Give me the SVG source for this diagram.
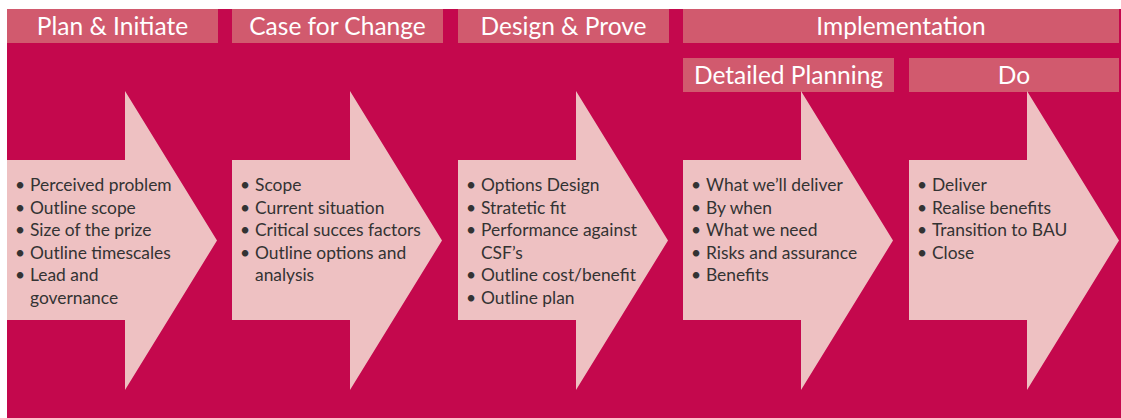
<svg xmlns="http://www.w3.org/2000/svg" width="1121" height="418" viewBox="0 0 1121 418">
<style>
.bg{fill:#C4084D}
.hdr{fill:#D15A6E}
.arr{fill:#EEC1C2}
.ht{font-family:"Lato","Liberation Sans",sans-serif;font-size:24.5px;fill:#FFFFFF;text-anchor:middle}
.bt{font-family:"Lato","Liberation Sans",sans-serif;font-size:17.4px;fill:#333333}
</style>
<defs>
<path id="arrow" d="M0,160 H118 V91 L210,240.5 L118,390 V320 H0 Z"/>
</defs>
<rect width="1121" height="418" fill="#FFFFFF"/>
<rect class="bg" x="7" y="9" width="1114" height="409"/>
<g id="headers">
<g id="h-plan"><rect class="hdr" x="7" y="9" width="211" height="34"/><text class="ht" x="112.5" y="35">Plan &amp; Initiate</text></g>
<g id="h-case"><rect class="hdr" x="232" y="9" width="211" height="34"/><text class="ht" x="337.5" y="35">Case for Change</text></g>
<g id="h-design"><rect class="hdr" x="458" y="9" width="211" height="34"/><text class="ht" x="563.5" y="35">Design &amp; Prove</text></g>
<g id="h-impl"><rect class="hdr" x="683" y="9" width="436" height="34"/><text class="ht" x="901" y="35">Implementation</text></g>
<g id="h-detailed"><rect class="hdr" x="683" y="58" width="211" height="34"/><text class="ht" x="788.5" y="84">Detailed Planning</text></g>
<g id="h-do"><rect class="hdr" x="909" y="58" width="210" height="34"/><text class="ht" x="1014" y="84">Do</text></g>
</g>
<g id="connectors"></g>
<g id="n1">
<use href="#arrow" class="arr" x="7"/>
<text class="bt"><tspan x="15" y="191">•</tspan><tspan x="30">Perceived problem</tspan><tspan x="15" y="213.5">•</tspan><tspan x="30">Outline scope</tspan><tspan x="15" y="236">•</tspan><tspan x="30">Size of the prize</tspan><tspan x="15" y="258.5">•</tspan><tspan x="30">Outline timescales</tspan><tspan x="15" y="281">•</tspan><tspan x="30">Lead and</tspan><tspan x="30" y="303.5">governance</tspan></text>
</g>
<g id="n2">
<use href="#arrow" class="arr" x="232"/>
<text class="bt"><tspan x="240" y="191">•</tspan><tspan x="255">Scope</tspan><tspan x="240" y="213.5">•</tspan><tspan x="255">Current situation</tspan><tspan x="240" y="236">•</tspan><tspan x="255">Critical succes factors</tspan><tspan x="240" y="258.5">•</tspan><tspan x="255">Outline options and</tspan><tspan x="255" y="281">analysis</tspan></text>
</g>
<g id="n3">
<use href="#arrow" class="arr" x="458"/>
<text class="bt"><tspan x="466" y="191">•</tspan><tspan x="481">Options Design</tspan><tspan x="466" y="213.5">•</tspan><tspan x="481">Stratetic fit</tspan><tspan x="466" y="236">•</tspan><tspan x="481">Performance against</tspan><tspan x="481" y="258.5">CSF’s</tspan><tspan x="466" y="281">•</tspan><tspan x="481">Outline cost/benefit</tspan><tspan x="466" y="303.5">•</tspan><tspan x="481">Outline plan</tspan></text>
</g>
<g id="n4">
<use href="#arrow" class="arr" x="683"/>
<text class="bt"><tspan x="691" y="191">•</tspan><tspan x="706">What we’ll deliver</tspan><tspan x="691" y="213.5">•</tspan><tspan x="706">By when</tspan><tspan x="691" y="236">•</tspan><tspan x="706">What we need</tspan><tspan x="691" y="258.5">•</tspan><tspan x="706">Risks and assurance</tspan><tspan x="691" y="281">•</tspan><tspan x="706">Benefits</tspan></text>
</g>
<g id="n5">
<use href="#arrow" class="arr" x="909"/>
<text class="bt"><tspan x="917" y="191">•</tspan><tspan x="932">Deliver</tspan><tspan x="917" y="213.5">•</tspan><tspan x="932">Realise benefits</tspan><tspan x="917" y="236">•</tspan><tspan x="932">Transition to BAU</tspan><tspan x="917" y="258.5">•</tspan><tspan x="932">Close</tspan></text>
</g>
</svg>
